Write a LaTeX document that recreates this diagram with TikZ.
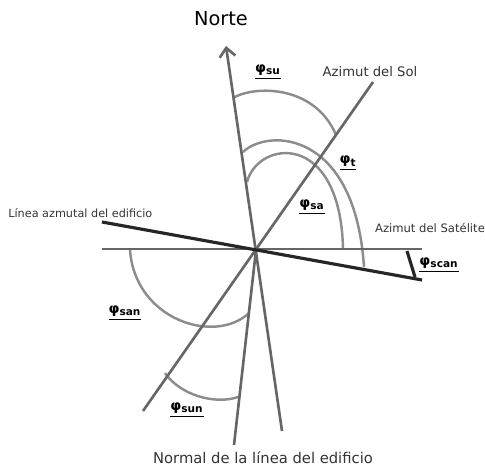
\documentclass[tikz,border=0pt]{standalone}
\usepackage{fontspec}
\setmainfont{DejaVu Sans}
\usetikzlibrary{arrows.meta}

\begin{document}
\begin{tikzpicture}[x=0.02cm, y=-0.02cm,
    linea/.style={line width=1.5pt, draw=black!60},
    arco/.style={line width=1.4pt, draw=black!45},
    edif/.style={line width=1.8pt, draw=black!85},
    etiq/.style={inner sep=0pt, text=black!80},
    ang/.style={inner sep=1pt, font=\fontsize{8}{9}\selectfont\bfseries}]
    \useasboundingbox (0,0) rectangle (485,466);

    % Puntos
    \coordinate (O) at (256,250);
    \coordinate (N) at (226,46);
    \coordinate (S) at (282,431);
    \coordinate (sol1) at (143,411);
    \coordinate (sol2) at (373,82);
    \coordinate (h1) at (102,249);
    \coordinate (h2) at (422,249);
    \coordinate (e1) at (102,222);
    \coordinate (e2) at (422,280);
    \coordinate (nor) at (234,445);
    \coordinate (sc1) at (407,251);
    \coordinate (sc2) at (415,277);

    % Arcos
    \draw[arco] (233,98) .. controls (255,85) and (315,85) .. (336,135);
    \draw[arco] (243,152) .. controls (268,128) and (355,130) .. (364,267);
    \draw[arco] (247,182) .. controls (258,140) and (340,130) .. (343,248);
    \draw[arco] (130,250) .. controls (135,320) and (215,345) .. (249,313);
    \draw[arco] (165,373) .. controls (180,395) and (215,405) .. (238,397);

    % Lineas
    \draw[linea, -{Straight Barb[length=5pt,width=9pt]}] (S) -- (N);
    \draw[linea] (h1) -- (h2);
    \draw[linea] (sol1) -- (sol2);
    \draw[linea] (O) -- (nor);
    \draw[edif] (e1) -- (e2);
    \draw[edif] (sc1) -- (sc2);

    % Textos
    \node[font=\fontsize{11}{12}\selectfont] (norte) at (221,19) {Norte};
    \node[etiq, font=\fontsize{7.5}{8}\selectfont] (tsol) at (370,72) {Azimut del Sol};
    \node[etiq, font=\fontsize{6.6}{8}\selectfont] (tsat) at (430,228) {Azimut del Satélite};
    \node[etiq, font=\fontsize{6.4}{8}\selectfont, anchor=west] (tedif) at (8,213) {Línea azmutal del edificio};
    \node[etiq, font=\fontsize{8.4}{9}\selectfont] (tnor) at (263,458) {Normal de la línea del edificio};

    % Angulos
    \node[ang] (psu) at (268,72) {\underline{φ\textsubscript{su}}};
    \node[ang] (pt) at (348,163) {\underline{φ\textsubscript{t}}};
    \node[ang] (psa) at (312,207) {\underline{φ\textsubscript{sa}}};
    \node[ang] (psan) at (125,313) {\underline{φ\textsubscript{san}}};
    \node[ang] (psun) at (187,410) {\underline{φ\textsubscript{sun}}};
    \node[ang] (pscan) at (439,265) {\underline{φ\textsubscript{scan}}};
\end{tikzpicture}
\end{document}
